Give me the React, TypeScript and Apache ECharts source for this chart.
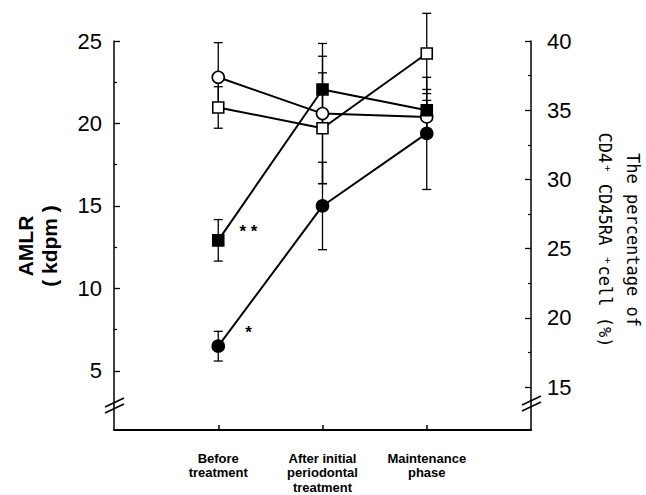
import React, { useEffect, useRef } from "react";
import * as echarts from "echarts";

// ---- data ----
const categories = ["Before\ntreatment", "After initial\nperiodontal\ntreatment", "Maintenance\nphase"];
const xPositions = [1, 2, 3];

const leftTicks = [5, 10, 15, 20, 25];
const leftMinorTicks = [7.5, 12.5, 17.5, 22.5];
const rightTicks = [15, 20, 25, 30, 35, 40];
const rightMinorTicks = [17.5, 22.5, 27.5, 32.5, 37.5];
const leftRange = [1.42, 25];
const rightRange = [11.9, 40];

// AMLR (kdpm), left axis
const openCircle = [22.8, 20.6, 20.4];
const openCircleErr = [2.1, 4.25, 1.0];
const filledCircle = [6.5, 15.0, 19.4];
const filledCircleErr = [0.9, 2.65, 3.4];
// CD4+ CD45RA+ cell (%), right axis
const openSquare = [35.2, 33.7, 39.1];
const openSquareErr = [1.5, 4.0, 2.9];
const filledSquare = [25.6, 36.5, 35.0];
const filledSquareErr = [1.5, 2.4, 1.5];

// significance marks [x, y, text]
const sigSquare = [1.29, 26.25, "* *"];
const sigCircle = [1.29, 7.35, "*"];

const FONT = "'Liberation Sans', Arial, Helvetica, sans-serif";

function errorSeries(vals: number[], errs: number[], yAxisIndex: number) {
  return {
    type: "custom",
    xAxisIndex: 0,
    yAxisIndex,
    z: 1,
    silent: true,
    clip: false,
    data: vals.map((v, i) => [xPositions[i], v - errs[i], v + errs[i]]),
    encode: { x: 0, y: [1, 2] },
    renderItem: (params: any, api: any) => {
      const x = api.value(0);
      const lo = api.coord([x, api.value(1)]);
      const hi = api.coord([x, api.value(2)]);
      const w = 4.5;
      const style = { stroke: "#000", lineWidth: 1.3 };
      return {
        type: "group",
        children: [
          { type: "line", shape: { x1: hi[0], y1: hi[1], x2: lo[0], y2: lo[1] }, style },
          { type: "line", shape: { x1: hi[0] - w, y1: hi[1], x2: hi[0] + w, y2: hi[1] }, style },
          { type: "line", shape: { x1: lo[0] - w, y1: lo[1], x2: lo[0] + w, y2: lo[1] }, style },
        ],
      };
    },
  };
}

function lineSeries(vals: number[], yAxisIndex: number, symbol: string, size: number, filled: boolean, mark?: any[]) {
  const s: any = {
    type: "line",
    xAxisIndex: 0,
    yAxisIndex,
    z: 3,
    data: vals.map((v, i) => [xPositions[i], v]),
    symbol,
    symbolSize: size,
    showAllSymbol: true,
    lineStyle: { color: "#000", width: 2 },
    itemStyle: { color: filled ? "#000" : "#fff", borderColor: "#000", borderWidth: 1.6 },
  };
  if (mark) {
    s.markPoint = {
      symbol: "rect",
      symbolSize: 1,
      itemStyle: { color: "transparent" },
      data: [
        {
          coord: [mark[0], mark[1]],
          label: {
            show: true,
            position: "inside",
            formatter: mark[2],
            color: "#000",
            fontSize: 17,
            fontWeight: "bold",
            fontFamily: FONT,
          },
        },
      ],
    };
  }
  return s;
}

export default function App() {
  const ref = useRef<HTMLDivElement>(null);
  useEffect(() => {
    if (!ref.current) return;
    const chart = echarts.init(ref.current, undefined, { renderer: "svg" });
    const axisLineStyle = { color: "#000", width: 1.5 };
    const option: any = {
      animation: false,
      backgroundColor: "#fff",
      grid: { left: 114, right: 115, top: 41, bottom: 65, containLabel: false, outerBoundsMode: "none" },
      xAxis: {
        type: "value",
        min: 0,
        max: 4,
        position: "bottom",
        axisLine: { show: true, onZero: false, lineStyle: { color: "#000", width: 2 } },
        axisTick: { show: true, inside: true, length: 5, customValues: xPositions, lineStyle: { color: "#000", width: 1.5 } },
        axisLabel: {
          customValues: xPositions,
          formatter: (v: number) => categories[Math.round(v) - 1] || "",
          margin: 21,
          color: "#000",
          fontSize: 13,
          fontWeight: "bold",
          fontFamily: FONT,
          lineHeight: 14.5,
          align: "center",
        },
        splitLine: { show: false },
      },
      yAxis: [
        {
          type: "value",
          position: "left",
          min: leftRange[0],
          max: leftRange[1],
          axisLine: { show: true, onZero: false, lineStyle: axisLineStyle },
          axisTick: { show: true, inside: true, length: 6, customValues: leftTicks, lineStyle: { color: "#000", width: 1.3 } },
          axisLabel: { customValues: leftTicks, margin: 12, color: "#000", fontSize: 22, fontFamily: FONT },
          splitLine: { show: false },
        },
        {
          type: "value",
          position: "right",
          min: rightRange[0],
          max: rightRange[1],
          axisLine: { show: true, onZero: false, lineStyle: axisLineStyle },
          axisTick: { show: true, inside: true, length: 6, customValues: rightTicks, lineStyle: { color: "#000", width: 1.3 } },
          axisLabel: { customValues: rightTicks, margin: 16, color: "#000", fontSize: 22, fontFamily: FONT },
          splitLine: { show: false },
        },
        {
          type: "value",
          position: "left",
          min: leftRange[0],
          max: leftRange[1],
          axisLine: { show: false },
          axisTick: { show: true, inside: true, length: 3, customValues: leftMinorTicks, lineStyle: { color: "#000", width: 1.2 } },
          axisLabel: { show: false },
          splitLine: { show: false },
        },
        {
          type: "value",
          position: "right",
          min: rightRange[0],
          max: rightRange[1],
          axisLine: { show: false },
          axisTick: { show: true, inside: true, length: 3, customValues: rightMinorTicks, lineStyle: { color: "#000", width: 1.2 } },
          axisLabel: { show: false },
          splitLine: { show: false },
        },
      ],
      series: [
        errorSeries(openCircle, openCircleErr, 0),
        errorSeries(filledCircle, filledCircleErr, 0),
        errorSeries(openSquare, openSquareErr, 1),
        errorSeries(filledSquare, filledSquareErr, 1),
        lineSeries(openCircle, 0, "circle", 12, false),
        lineSeries(filledCircle, 0, "circle", 12, true, sigCircle),
        lineSeries(openSquare, 1, "rect", 11, false),
        lineSeries(filledSquare, 1, "rect", 11, true, sigSquare),
      ],
      graphic: [
        {
          type: "text",
          x: 37,
          y: 246,
          rotation: Math.PI / 2,
          style: {
            text: "AMLR\n( kdpm )",
            fill: "#000",
            font: `bold 21px ${FONT}`,
            align: "center",
            verticalAlign: "middle",
            lineHeight: 24,
          },
        },
        {
          type: "text",
          x: 619,
          y: 240,
          rotation: -Math.PI / 2,
          style: {
            text: "The percentage of\nCD4\u207A CD45RA \u207Acell (%)",
            fill: "#000",
            font: `17px 'DejaVu Sans Mono', 'Liberation Mono', monospace`,
            align: "center",
            verticalAlign: "middle",
            lineHeight: 28,
          },
        },
        { type: "line", shape: { x1: 105, y1: 407, x2: 124, y2: 398 }, style: { stroke: "#000", lineWidth: 1.5 } },
        { type: "line", shape: { x1: 105, y1: 413, x2: 124, y2: 404 }, style: { stroke: "#000", lineWidth: 1.5 } },
        { type: "line", shape: { x1: 522, y1: 405, x2: 541, y2: 396 }, style: { stroke: "#000", lineWidth: 1.5 } },
        { type: "line", shape: { x1: 522, y1: 411, x2: 541, y2: 402 }, style: { stroke: "#000", lineWidth: 1.5 } },
      ],
    };
    chart.setOption(option);
    return () => chart.dispose();
  }, []);
  return (
    <div
      ref={ref}
      style={{ position: "fixed", left: 0, top: 0, width: 646, height: 495, background: "#fff" }}
    />
  );
}
